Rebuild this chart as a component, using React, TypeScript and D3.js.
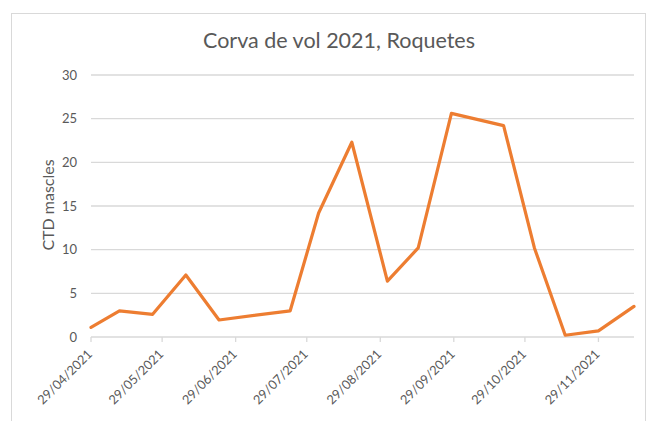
import React from "react";
import * as d3 from "d3";

const dates = ["2021-04-29","2021-05-11","2021-05-25","2021-06-08","2021-06-22","2021-07-22","2021-08-03","2021-08-17","2021-09-01","2021-09-14","2021-09-28","2021-10-20","2021-11-02","2021-11-15","2021-11-29","2021-12-14"];
const values = [1.1, 3.0, 2.6, 7.1, 1.95, 3.0, 14.2, 22.3, 6.4, 10.2, 25.6, 24.2, 10.2, 0.2, 0.7, 3.5];
const tickDates = ["2021-04-29","2021-05-29","2021-06-29","2021-07-29","2021-08-29","2021-09-29","2021-10-29","2021-11-29"];
const yTicks = [0, 5, 10, 15, 20, 25, 30];
const title = "Corva de vol 2021, Roquetes";
const yTitle = "CTD mascles";

const parse = d3.timeParse("%Y-%m-%d");
const fmt = d3.timeFormat("%d/%m/%Y");

export default function App() {
  const W = 652, H = 421;
  const left = 91, right = 634, top = 75, bottom = 337;
  const pts = dates.map((d, i) => ({ d: parse(d) as Date, v: values[i] }));
  const x = d3.scaleTime().domain([pts[0].d, pts[pts.length - 1].d]).range([left, right]);
  const y = d3.scaleLinear().domain([0, 30]).range([bottom, top]);
  const line = d3.line<{ d: Date; v: number }>().x(p => x(p.d)).y(p => y(p.v));
  const font = "Lato, 'Open Sans', sans-serif";
  return (
    <svg width={W} height={H} style={{ position: "absolute", left: 0, top: 0, background: "#fff" }}>
      <rect x={11.5} y={13.5} width={634} height={420} fill="#fff" stroke="#d9d9d9" strokeWidth={1} />
      <text x={339} y={48} textAnchor="middle" fontFamily={font} fontSize={21.5} fill="#595959">{title}</text>
      {yTicks.map(t => (
        <g key={t}>
          <line x1={left} x2={right} y1={y(t)} y2={y(t)} stroke="#d9d9d9" strokeWidth={1.3} />
          <text x={77} y={y(t) + 4.5} textAnchor="end" fontFamily={font} fontSize={13} fill="#595959">{t}</text>
        </g>
      ))}
      {tickDates.map(t => {
        const tx = x(parse(t) as Date);
        return (
          <g key={t}>
            <line x1={tx} x2={tx} y1={bottom} y2={bottom + 5} stroke="#d9d9d9" strokeWidth={1.3} />
            <text transform={`translate(${tx + 2},${bottom + 18}) rotate(-45)`} textAnchor="end" fontFamily={font} fontSize={12.8} fill="#595959">{fmt(parse(t) as Date)}</text>
          </g>
        );
      })}
      <text transform={`translate(54,${205}) rotate(-90)`} textAnchor="middle" fontFamily={font} fontSize={16} fill="#595959">{yTitle}</text>
      <path d={line(pts) || ""} fill="none" stroke="#ED7D31" strokeWidth={3.2} strokeLinejoin="round" strokeLinecap="round" />
    </svg>
  );
}
